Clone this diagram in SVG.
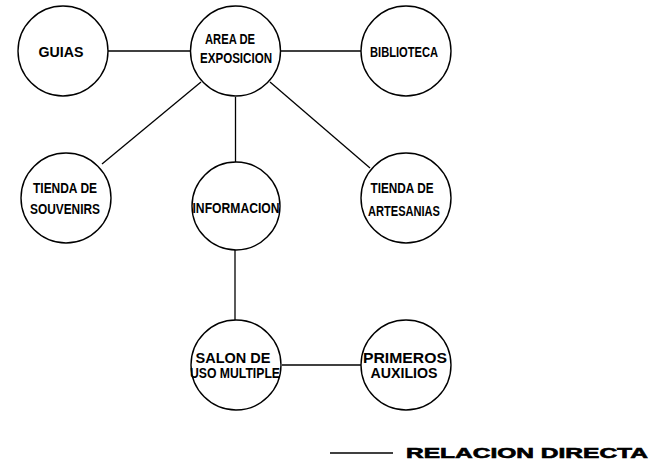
<svg xmlns="http://www.w3.org/2000/svg" width="656" height="462" viewBox="0 0 656 462">
<style>
.node circle{fill:#fff;stroke:#000;stroke-width:1.4}
.node text{font-family:"Liberation Sans",Arial,sans-serif;font-weight:bold;font-size:14px;fill:#000;text-anchor:middle}
.conn line{stroke:#000;stroke-width:1.3}
.legend{font-family:"Liberation Sans",Arial,sans-serif;font-weight:bold;font-size:15px;fill:#000;stroke:#000;stroke-width:0.6}
</style>
<rect width="656" height="462" fill="#fff"/>
<g class="conn" id="connectors">
<line x1="108" y1="51" x2="190" y2="51"/>
<line x1="281" y1="51" x2="361" y2="51"/>
<line x1="201" y1="82" x2="102" y2="164"/>
<line x1="235.5" y1="97" x2="235.5" y2="162"/>
<line x1="270" y1="82" x2="370" y2="168"/>
<line x1="235" y1="250" x2="235" y2="320"/>
<line x1="282" y1="365" x2="361" y2="365"/>
</g>
<g class="node" id="guias">
<circle cx="63" cy="51" r="45"/>
<text x="61" y="57" textLength="45" lengthAdjust="spacingAndGlyphs">GUIAS</text>
</g>
<g class="node" id="area-exposicion">
<circle cx="235.5" cy="51" r="45"/>
<text x="230" y="44" textLength="50" lengthAdjust="spacingAndGlyphs">AREA DE</text>
<text x="236" y="63" textLength="72" lengthAdjust="spacingAndGlyphs">EXPOSICION</text>
</g>
<g class="node" id="biblioteca">
<circle cx="406" cy="51" r="45"/>
<text x="404" y="57" textLength="68" lengthAdjust="spacingAndGlyphs">BIBLIOTECA</text>
</g>
<g class="node" id="tienda-souvenirs">
<circle cx="66" cy="198" r="45"/>
<text x="65" y="193" textLength="64" lengthAdjust="spacingAndGlyphs">TIENDA DE</text>
<text x="65" y="214" textLength="70" lengthAdjust="spacingAndGlyphs">SOUVENIRS</text>
</g>
<g class="node" id="informacion">
<circle cx="236" cy="206" r="44"/>
<text x="236" y="213" textLength="87" lengthAdjust="spacingAndGlyphs">INFORMACION</text>
</g>
<g class="node" id="tienda-artesanias">
<circle cx="406" cy="198" r="45"/>
<text x="402" y="193" textLength="63" lengthAdjust="spacingAndGlyphs">TIENDA DE</text>
<text x="404" y="216" textLength="72" lengthAdjust="spacingAndGlyphs">ARTESANIAS</text>
</g>
<g class="node" id="salon-uso-multiple">
<circle cx="236" cy="365" r="45"/>
<text x="233" y="363" textLength="75" lengthAdjust="spacingAndGlyphs">SALON DE</text>
<text x="235" y="378" textLength="90" lengthAdjust="spacingAndGlyphs">USO MULTIPLE</text>
</g>
<g class="node" id="primeros-auxilios">
<circle cx="406" cy="365" r="45"/>
<text x="405" y="363" textLength="84" lengthAdjust="spacingAndGlyphs">PRIMEROS</text>
<text x="404" y="378" textLength="67" lengthAdjust="spacingAndGlyphs">AUXILIOS</text>
</g>
<g id="legend">
<line x1="330" y1="453" x2="393" y2="453" stroke="#000" stroke-width="1.4"/>
<text class="legend" x="406" y="458" textLength="242" lengthAdjust="spacingAndGlyphs">RELACION DIRECTA</text>
</g>
</svg>
